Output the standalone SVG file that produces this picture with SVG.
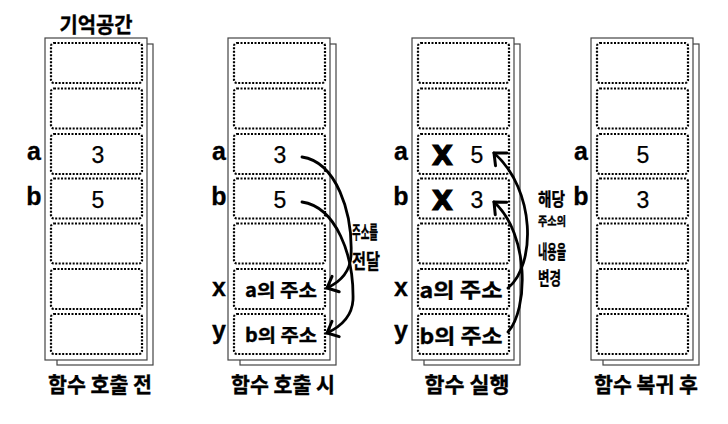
<svg xmlns="http://www.w3.org/2000/svg" width="728" height="424" viewBox="0 0 728 424">
<defs>
<style>
.bg{fill:#fff}
.back{fill:#fff;stroke:#444;stroke-width:1.2}
.front{fill:#fff;stroke:#444;stroke-width:1.2}
.slot{fill:none;stroke:#000;stroke-width:2.2;stroke-dasharray:2 1.5}
.kr{font-family:"Noto Sans CJK KR","Noto Sans",sans-serif;font-weight:bold;fill:#000;stroke:#000;stroke-width:0.35}
.lab{font-family:"Liberation Sans",Arial,sans-serif;font-weight:bold;font-size:25px;fill:#000;text-anchor:middle;stroke:#000;stroke-width:0.3}
.val{font-family:"Liberation Sans",Arial,sans-serif;font-size:23px;fill:#000;text-anchor:middle;stroke:#000;stroke-width:0.25}
.xm{font-family:"DejaVu Sans",sans-serif;font-weight:bold;font-size:27px;fill:#000;text-anchor:middle;stroke:#000;stroke-width:1.2}
.addr{font-size:18.5px;text-anchor:middle}
.addr3{font-size:20.5px;text-anchor:middle}
.cap{font-size:21px;text-anchor:middle}
.conn{fill:none;stroke:#000;stroke-width:2.8;stroke-linecap:round}
</style>
<marker id="ah" markerUnits="userSpaceOnUse" viewBox="-14 -12 16 24" markerWidth="16" markerHeight="24" refX="0" refY="0" orient="auto">
<path d="M-9.5,-8.5 L0,0 L-9.5,8.5" fill="none" stroke="#000" stroke-width="3" stroke-linecap="round" stroke-linejoin="miter"/>
</marker>
</defs>
<rect class="bg" x="0" y="0" width="728" height="424"/>

<text class="kr" x="96" y="32" font-size="21" text-anchor="middle" textLength="73" lengthAdjust="spacingAndGlyphs">기억공간</text>

<!-- Column 1: before call -->
<g id="col1">
<rect class="back" x="57" y="44" width="96" height="321"/>
<rect class="front" x="45" y="38" width="102" height="322"/>
<g id="c1s1"><rect class="slot" x="51" y="43" width="91" height="40" rx="3"/></g>
<g id="c1s2"><rect class="slot" x="51" y="88.5" width="91" height="40" rx="3"/></g>
<g id="c1s3"><rect class="slot" x="51" y="134" width="91" height="40" rx="3"/><text class="val" x="98" y="163">3</text></g>
<g id="c1s4"><rect class="slot" x="51" y="178.5" width="91" height="40" rx="3"/><text class="val" x="98" y="208">5</text></g>
<g id="c1s5"><rect class="slot" x="51" y="223.5" width="91" height="40" rx="3"/></g>
<g id="c1s6"><rect class="slot" x="51" y="269" width="91" height="40" rx="3"/></g>
<g id="c1s7"><rect class="slot" x="51" y="314" width="91" height="40" rx="3"/></g>
<text class="lab" x="34" y="160">a</text>
<text class="lab" x="34" y="205">b</text>
<text class="kr cap" x="100" y="392" textLength="104" lengthAdjust="spacingAndGlyphs">함수 호출 전</text>
</g>

<!-- Column 2: during call -->
<g id="col2">
<rect class="back" x="240" y="44" width="96" height="321"/>
<rect class="front" x="228" y="38" width="102" height="322"/>
<g id="c2s1"><rect class="slot" x="234" y="43" width="91" height="40" rx="3"/></g>
<g id="c2s2"><rect class="slot" x="234" y="88.5" width="91" height="40" rx="3"/></g>
<g id="c2s3"><rect class="slot" x="234" y="134" width="91" height="40" rx="3"/><text class="val" x="280" y="163">3</text></g>
<g id="c2s4"><rect class="slot" x="234" y="178.5" width="91" height="40" rx="3"/><text class="val" x="280" y="208">5</text></g>
<g id="c2s5"><rect class="slot" x="234" y="223.5" width="91" height="40" rx="3"/></g>
<g id="c2s6"><rect class="slot" x="234" y="269" width="91" height="40" rx="3"/><text class="kr addr" x="281" y="297" textLength="72" lengthAdjust="spacingAndGlyphs">a의 주소</text></g>
<g id="c2s7"><rect class="slot" x="234" y="314" width="91" height="40" rx="3"/><text class="kr addr" x="281" y="342" textLength="72" lengthAdjust="spacingAndGlyphs">b의 주소</text></g>
<text class="lab" x="219" y="160">a</text>
<text class="lab" x="219" y="205">b</text>
<text class="lab" x="219" y="296">x</text>
<text class="lab" x="219" y="339">y</text>
<text class="kr cap" x="283" y="392" textLength="104" lengthAdjust="spacingAndGlyphs">함수 호출 시</text>
</g>

<!-- Column 3: execution -->
<g id="col3">
<rect class="back" x="424" y="44" width="96" height="321"/>
<rect class="front" x="412" y="38" width="102" height="322"/>
<g id="c3s1"><rect class="slot" x="418" y="43" width="91" height="40" rx="3"/></g>
<g id="c3s2"><rect class="slot" x="418" y="88.5" width="91" height="40" rx="3"/></g>
<g id="c3s3"><rect class="slot" x="418" y="134" width="91" height="40" rx="3"/><text class="xm" x="442.5" y="165">X</text><text class="val" x="477" y="163">5</text></g>
<g id="c3s4"><rect class="slot" x="418" y="178.5" width="91" height="40" rx="3"/><text class="xm" x="442.5" y="210">X</text><text class="val" x="477" y="208">3</text></g>
<g id="c3s5"><rect class="slot" x="418" y="223.5" width="91" height="40" rx="3"/></g>
<g id="c3s6"><rect class="slot" x="418" y="269" width="91" height="40" rx="3"/><text class="kr addr3" x="461" y="297.5" textLength="83" lengthAdjust="spacingAndGlyphs">a의 주소</text></g>
<g id="c3s7"><rect class="slot" x="418" y="314" width="91" height="40" rx="3"/><text class="kr addr3" x="461" y="343.5" textLength="83" lengthAdjust="spacingAndGlyphs">b의 주소</text></g>
<text class="lab" x="401" y="160">a</text>
<text class="lab" x="401" y="205">b</text>
<text class="lab" x="401" y="296">x</text>
<text class="lab" x="401" y="339">y</text>
<text class="kr cap" x="467" y="392" textLength="85" lengthAdjust="spacingAndGlyphs">함수 실행</text>
</g>

<!-- Column 4: after return -->
<g id="col4">
<rect class="back" x="603" y="44" width="96" height="321"/>
<rect class="front" x="591" y="38" width="102" height="322"/>
<g id="c4s1"><rect class="slot" x="597" y="43" width="91" height="40" rx="3"/></g>
<g id="c4s2"><rect class="slot" x="597" y="88.5" width="91" height="40" rx="3"/></g>
<g id="c4s3"><rect class="slot" x="597" y="134" width="91" height="40" rx="3"/><text class="val" x="643" y="163">5</text></g>
<g id="c4s4"><rect class="slot" x="597" y="178.5" width="91" height="40" rx="3"/><text class="val" x="643" y="208">3</text></g>
<g id="c4s5"><rect class="slot" x="597" y="223.5" width="91" height="40" rx="3"/></g>
<g id="c4s6"><rect class="slot" x="597" y="269" width="91" height="40" rx="3"/></g>
<g id="c4s7"><rect class="slot" x="597" y="314" width="91" height="40" rx="3"/></g>
<text class="lab" x="581" y="160">a</text>
<text class="lab" x="581" y="205">b</text>
<text class="kr cap" x="646" y="392" textLength="104" lengthAdjust="spacingAndGlyphs">함수 복귀 후</text>
</g>

<!-- Connectors -->
<g id="connectors">
<path class="conn" d="M302,157 C336,162 353,212 351,256 C350,272 340,282 327,288" marker-end="url(#ah)"/>
<path class="conn" d="M302,202 C336,207 354,255 353,300 C352,316 342,326 327,333" marker-end="url(#ah)"/>
<path class="conn" d="M508,288 C536,265 536,190 494,153" marker-end="url(#ah)"/>
<path class="conn" d="M508,332 C528,310 530,235 494,202" marker-end="url(#ah)"/>
</g>

<!-- Connector labels -->
<g id="labels">
<text class="kr" x="352" y="239" font-size="18" textLength="26" lengthAdjust="spacingAndGlyphs">주소를</text>
<text class="kr" x="352" y="269" font-size="20" textLength="28" lengthAdjust="spacingAndGlyphs">전달</text>
<text class="kr" x="538" y="206" font-size="18" textLength="27" lengthAdjust="spacingAndGlyphs">해당</text>
<text class="kr" x="538" y="226" font-size="12" textLength="28" lengthAdjust="spacingAndGlyphs">주소의</text>
<text class="kr" x="538" y="259" font-size="19" textLength="28" lengthAdjust="spacingAndGlyphs">내용을</text>
<text class="kr" x="538" y="285" font-size="18" textLength="23" lengthAdjust="spacingAndGlyphs">변경</text>
</g>
</svg>
